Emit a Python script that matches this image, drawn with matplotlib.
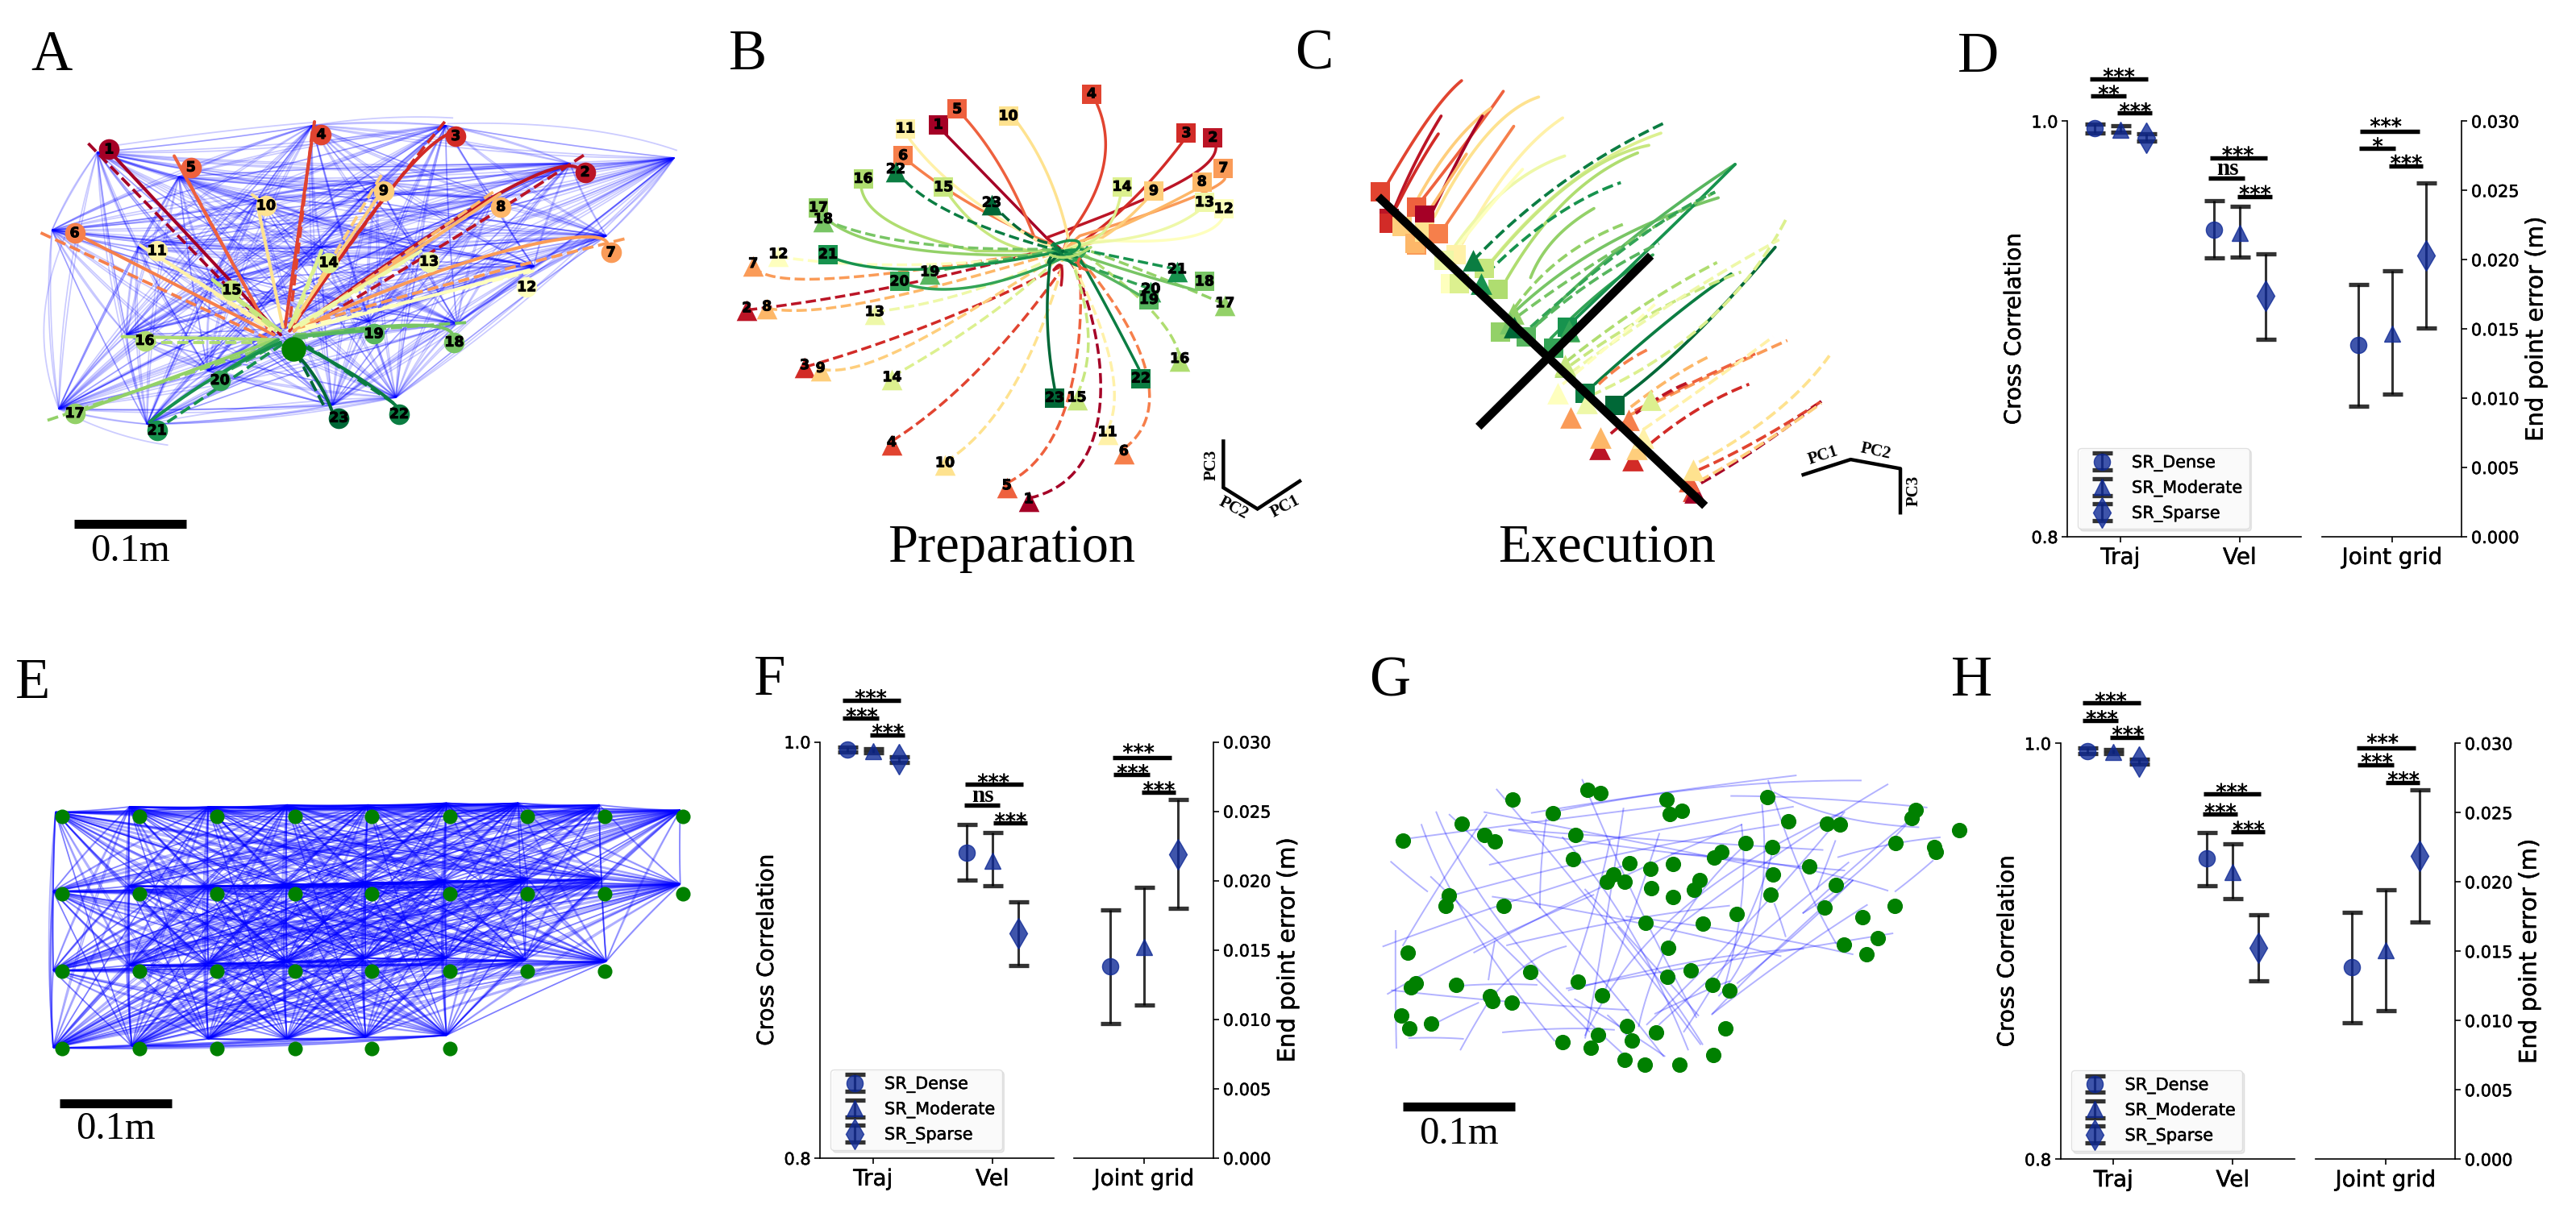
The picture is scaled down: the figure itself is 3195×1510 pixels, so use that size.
import math
import numpy as np
import matplotlib
matplotlib.use("Agg")
import matplotlib.pyplot as plt
import matplotlib.patheffects as pe
from matplotlib.collections import LineCollection

W, H = 3195, 1510
SERIF = "Liberation Serif"
cmap = plt.get_cmap("RdYlGn")
def col(i):
    return cmap((i - 1) / 22)

# ---------- panel A ----------
A_NODES = {1:(241,393),2:(1293,453),3:(1007,358),4:(710,354),5:(422,440),6:(165,613),7:(1350,664),
           8:(1107,544),9:(848,502),10:(588,541),11:(347,660),12:(1164,755),13:(948,688),14:(726,691),
           15:(512,763),16:(320,896),17:(165,1087),18:(1004,900),19:(826,878),20:(486,1000),
           21:(347,1132),22:(882,1089),23:(749,1099)}
A_CENTRE = (649,917)
A_HUBS = [(215,400),(1260,430),(985,330),(690,330),(395,465),(115,605),(1340,620),(1090,520),(835,480),
          (570,520),(305,650),(1180,700),(930,660),(710,650),(470,740),(280,880),(130,1075),(1010,850),
          (815,845),(460,975),(325,1115),(875,1045),(735,1065),(1490,415)]
A_ARCS = [[(130,1075),(55,850),(150,605)],[(990,325),(1300,315),(1495,395)],[(240,385),(500,340),(690,322)],
          [(690,330),(850,300),(1000,310)],[(1490,415),(1400,560),(1190,710)],[(325,1115),(600,1050),(875,1045)],
          [(130,1075),(250,1150),(370,1170)]]
A_SOLID = {1:[(240,395),(620,880)],2:[(1275,440),(1225,410),(1000,560),(650,870)],
           3:[(1005,345),(930,375),(830,540),(640,870)],4:[(695,320),(630,860)],5:[(385,410),(595,870)],
           6:[(165,613),(605,880)],7:[(1340,635),(1310,590),(1000,670),(660,865)],8:[(1105,510),(650,870)],
           9:[(848,495),(640,860)],10:[(570,545),(625,860)],11:[(310,645),(610,870)],12:[(1170,710),(660,870)],
           13:[(930,660),(650,860)],14:[(710,660),(640,860)],15:[(470,735),(620,870)],16:[(270,885),(610,893)],
           17:[(165,1087),(610,893)],18:[(1000,880),(990,835),(800,860),(650,885)],19:[(826,868),(650,885)],
           20:[(470,1000),(540,940),(615,893)],21:[(330,1110),(470,980),(620,900)],
           22:[(882,1075),(830,1010),(670,910)],23:[(735,1085),(710,1000),(655,930)]}
A_DASHED = {1:[(195,377),(610,885)],2:[(1290,408),(1060,590),(680,860)],3:[(983,320),(830,540),(645,860)],
            4:[(690,345),(640,850)],5:[(400,440),(590,860)],6:[(90,612),(590,890)],
            7:[(1380,628),(900,770),(660,860)],8:[(1090,505),(655,865)],9:[(843,460),(650,850)],
            10:[(555,510),(578,530)],11:[(325,655),(600,870)],12:[(1180,712),(670,860)],13:[(925,665),(660,860)],
            14:[(712,655),(650,850)],15:[(468,735),(610,870)],16:[(320,900),(600,900)],17:[(105,1105),(610,905)],
            18:[(1030,848),(650,880)],19:[(820,860),(660,890)],20:[(480,990),(620,900)],
            21:[(370,1110),(630,900)],22:[(870,1060),(680,910)],23:[(715,1065),(660,940)]}

# ---------- panel B ----------
B_CENTRE = (955,660)
B_SQUARES = {1:(618,328),2:(1360,362),3:(1288,350),4:(1032,247),5:(669,287),6:(523,409),7:(1388,442),
             8:(1330,478),9:(1200,502),10:(807,305),11:(529,338),12:(1389,549),13:(1337,532),14:(1114,491),
             15:(632,492),16:(415,470),17:(294,546),18:(1337,740),19:(1187,788),20:(513,740),21:(320,669),
             22:(1165,995),23:(932,1046)}
B_TRIANGLES = {1:(862,1312),2:(101,810),3:(257,960),4:(492,1163),5:(803,1276),6:(1119,1186),7:(118,693),
               8:(155,806),9:(300,968),10:(636,1217),11:(1075,1136),12:(186,668),13:(446,820),14:(493,992),
               15:(992,1045),16:(1270,943),17:(1392,797),18:(307,576),19:(595,715),20:(1192,760),21:(1263,708),
               22:(503,445),23:(762,533)}
B_SOLID = {1:[(630,345),(910,625)],2:[(1368,385),(1370,450),(1200,520),(910,625)],3:[(1280,370),(1150,540),(1000,640)],
           4:[(1045,270),(1120,430),(970,620)],5:[(690,310),(800,430),(880,630)],6:[(545,430),(700,550),(920,640)],
           7:[(1392,470),(1370,510),(1000,620)],8:[(1310,500),(1100,610),(980,640)],9:[(1180,525),(1100,610),(1030,640)],
           10:[(830,320),(930,450),(970,630)],11:[(540,365),(650,510),(900,640)],12:[(1385,575),(1340,650),(1040,630)],
           13:[(1320,555),(1220,630),(1000,640)],14:[(1110,515),(1090,610),(1020,640)],15:[(645,510),(740,640),(870,660)],
           16:[(410,495),(430,600),(720,660)],17:[(310,570),(430,680),(900,670)],18:[(1310,762),(1150,720),(1000,670)],
           19:[(1160,775),(1100,740),(1000,690)],20:[(540,750),(700,790),(950,680)],21:[(345,682),(520,740),(900,670)],
           22:[(1160,970),(1060,780),(1000,680)],23:[(932,1020),(900,850),(920,690)]}
B_DASHED = {1:[(862,1310),(1100,1260),(1090,950),(990,710)],2:[(101,815),(500,770),(930,650)],3:[(257,965),(600,870),(950,700)],
            4:[(492,1160),(720,1020),(950,710)],5:[(803,1270),(1000,1180),(1010,850),(1000,700)],
            6:[(1119,1180),(1270,1070),(1150,850),(1000,680)],7:[(118,700),(170,770),(500,720),(920,660)],
            8:[(155,810),(300,840),(600,760),(920,670)],9:[(300,970),(430,1000),(700,820),(930,680)],
            10:[(636,1215),(830,1100),(950,710)],11:[(1075,1130),(1140,1000),(980,690)],12:[(186,675),(500,720),(920,670)],
            13:[(446,820),(700,790),(920,680)],14:[(493,990),(750,850),(930,690)],15:[(992,1040),(1060,900),(980,690)],
            16:[(1270,940),(1250,830),(1000,660)],17:[(1392,800),(1200,720),(1000,650)],18:[(307,576),(500,660),(900,655)],
            19:[(595,715),(750,690),(900,665)],20:[(1192,760),(1020,700)],21:[(1263,708),(1000,655)],
            22:[(503,445),(580,560),(910,650)],23:[(762,533),(850,630),(920,640)]}
B_TANGLE = [(21,[(925,645),(1015,610),(1020,655),(960,670)]),(23,[(915,690),(930,650),(950,680)]),
            (20,[(950,680),(1000,700),(1020,650)]),(22,[(930,640),(960,690),(1000,700)]),
            (16,[(920,670),(970,690),(1030,650)]),(2,[(930,710),(960,670),(950,750)]),(5,[(1000,680),(985,700),(1020,710)])]
B_AXIS = [(1388,1160),(1388,1282),(1480,1338),(1594,1265)]

# ---------- panel C ----------
C_SQUARES = [(4,266,504),(2,287,575),(3,287,587),(5,355,545),(1,375,565),(9,320,595),(7,356,645),(8,352,640),
             (10,375,610),(6,410,615),(11,455,670),(13,425,685),(12,440,745),(14,462,745),(15,525,705),(16,558,760),
             (17,565,872),(18,630,885),(19,630,885),(20,697,915),(21,732,860),(22,775,1035),(23,850,1065)]
C_TRIANGLES = [(22,497,685),(21,517,745),(17,597,825),(18,590,850),(23,600,860),(19,735,870),(20,735,868),(16,725,965),
               (15,725,960),(12,707,1035),(13,780,1060),(14,938,1050),(7,740,1097),(6,885,1105),(2,812,1180),(8,815,1150),
               (3,895,1210),(9,905,1180),(11,920,1150),(4,1045,1290),(1,1050,1295),(5,1035,1265),(10,1045,1235)]
C_SOLID = {4:[(285,480),(400,270),(468,212)],2:[(300,550),(350,420),(417,305)],3:[(305,545),(360,430),(410,352)],
           5:[(355,545),(500,350),(572,240)],9:[(335,570),(430,370),(540,285)],1:[(380,590),(470,390),(520,305)],
           8:[(365,590),(420,500),(480,405)],10:[(400,570),(530,300),(660,255)],6:[(430,590),(520,450),(598,332)],
           11:[(470,640),(590,400),(720,310)],13:[(430,680),(560,470),(725,410)],12:[(450,660),(530,550),(620,445)],
           14:[(540,690),(740,430),(965,350)],15:[(530,705),(750,420),(935,382)],16:[(580,735),(720,480),(907,402)],
           17:[(640,730),(680,620),(798,548)],18:[(600,820),(800,620),(1108,520)],19:[(650,860),(850,640),(1150,432)],
           20:[(690,890),(830,740),(945,670)],21:[(750,840),(900,690),(1000,590),(1150,432)],22:[(800,1010),(1010,810),(1140,720)],
           23:[(875,1040),(1040,910),(1250,650)]}
C_DASHED = {22:[(497,685),(700,460),(970,325)],21:[(530,720),(700,540),(865,480)],17:[(600,810),(700,660),(870,590)],
            18:[(610,830),(800,680),(1100,505)],20:[(640,860),(850,660),(1000,550),(1100,505)],19:[(660,850),(800,720),(960,640)],
            16:[(730,950),(920,790),(1105,690)],15:[(740,960),(950,800),(1165,715)],14:[(790,1040),(1130,880),(1280,570)],
            13:[(740,980),(1000,780),(1260,630)],12:[(720,1010),(870,880),(950,800)],6:[(810,1010),(870,950),(940,915)],
            8:[(890,1070),(1000,980),(1090,935)],7:[(880,1095),(1100,980),(1280,895)],5:[(900,1080),(1050,1000),(1200,930)],
            2:[(840,1140),(950,1040),(1035,1005)],11:[(920,1130),(1100,1000),(1245,885)],3:[(940,1165),(1060,1060),(1185,1010)],
            10:[(1060,1215),(1280,1090),(1385,935)],4:[(1060,1235),(1200,1170),(1365,1055)],1:[(1065,1270),(1200,1190),(1365,1055)],
            9:[(1060,1265),(1200,1185),(1365,1060)]}
C_CROSS = [[(260,517),(1075,1330)],[(940,672),(510,1122)]]
C_AXIS = [(1320,1248),(1438,1208),(1562,1232),(1562,1348)]

# ---------- panel E ----------
E_COLS = [134,302,469,637,804,972,1139,1307,1475]
E_ROWS = [521,737,953,1168]
E_ROW_COUNT = [9,9,8,6]
E_HUBS = [(120,510),(280,495),(450,495),(620,490),(795,490),(965,485),(1120,485),(1295,490),(1470,505),
          (115,730),(280,715),(450,715),(620,710),(790,705),(960,700),(1140,695),(1300,695),(1470,710),
          (115,950),(280,935),(450,930),(620,925),(790,915),(965,915),(1135,920),(1310,925),
          (115,1165),(285,1160),(450,1140),(620,1140),(790,1135),(965,1130)]

# ---------- panel G ----------
G_POINTS = [(156,589),(299,543),(355,574),(381,592),(424,474),(521,513),(606,448),(637,456),(798,474),(806,516),(835,506),
            (1042,469),(1094,535),(1187,543),(1220,545),(1404,505),(1394,527),(1509,561),(1354,595),(1448,606),(1452,620),
            (577,574),(570,641),(708,651),(759,668),(813,654),(913,636),(931,620),(989,596),(1054,607),(1145,661),(1056,683),
            (1210,713),(668,684),(653,704),(695,703),(761,722),(878,698),(865,725),(814,747),(1051,740),(268,742),(260,770),
            (402,771),(1182,775),(1353,770),(1274,801),(747,817),(885,820),(968,793),(802,887),(168,901),(1229,879),(1311,861),
            (1284,904),(188,985),(177,997),(287,991),(467,955),(583,980),(857,949),(799,967),(910,991),(950,1005),(369,1021),
            (375,1035),(422,1040),(641,1019),(153,1075),(172,1112),(225,1098),(701,1105),(773,1123),(940,1112),(631,1130),
            (713,1145),(545,1148),(614,1164),(695,1199),(744,1211),(830,1211),(912,1185)]
G_LINES = [[(139,840),(138,1000),(141,1165)],[(157,880),(260,680),(360,518)],[(128,648),(170,690),(216,730)],
           [(120,1015),(300,895),(620,740)],[(109,883),(400,760),(720,650)],[(140,588),(350,555),(790,493)],
           [(202,545),(280,800),(525,1145)],[(238,510),(350,830),(690,1180)],[(270,517),(500,760),(790,1188)],
           [(225,690),(400,880),(610,1120)],[(385,447),(650,800),(880,1155)],[(355,510),(630,570),(1060,670)],
           [(470,512),(800,450),(1112,408)],[(520,510),(900,420),(1270,422)],[(593,420),(720,770),(870,1080)],
           [(415,560),(800,630),(1230,672)],[(368,656),(700,570),(1105,495)],[(505,530),(490,650),(490,775)],
           [(955,465),(1150,465),(1430,497)],[(1045,423),(1120,700),(1210,875)],[(1060,455),(1200,540),(1410,552)],
           [(600,1130),(750,750),(1225,510)],[(1335,433),(1100,590),(810,840)],[(1403,520),(1280,630),(1130,790)],
           [(1285,768),(1100,900),(910,1070)],[(1445,645),(1400,690),(1354,730)],[(1208,590),(1185,660),(1163,725)],
           [(1215,635),(1330,595),(1462,580)],[(1335,728),(1100,640),(810,625)],[(375,745),(700,800),(1075,910)],
           [(410,880),(700,800),(950,770)],[(1347,847),(900,930),(555,1000)],[(1250,905),(1000,840),(700,800)],
           [(130,1005),(400,1040),(705,1060)],[(400,1122),(550,1105),(670,1115)],[(172,1138),(240,1135),(303,1140)],
           [(297,1170),(340,1080),(380,1010)],[(236,1097),(290,1065),(340,1040)],[(290,993),(380,985),(482,990)],
           [(365,975),(372,920),(380,870)],[(376,1020),(460,910),(553,883)],[(575,1030),(680,1100),(793,1188)],
           [(655,1075),(700,1120),(720,1165)],[(730,1105),(790,800),(1000,590)],[(750,1100),(1000,830),(1230,510)],
           [(780,1100),(1000,870),(1240,650)],[(840,1120),(1010,830),(1060,600)],[(908,1072),(1050,900),(1250,700)],
           [(970,985),(1100,870),(1250,700)],[(885,1155),(800,1000),(680,830)],[(600,725),(740,900),(875,1075)],
           [(560,1005),(900,900),(1130,890)],[(770,1070),(900,1000),(950,980)],[(940,990),(1000,750),(980,545)],
           [(925,1020),(1060,850),(1030,490)],[(1060,765),(1075,810),(1087,855)],[(1130,790),(1260,700),(1400,520)],
           [(600,1137),(630,980),(693,500)],[(570,960),(630,760),(660,590)],[(650,1000),(700,850),(780,570)],
           [(545,580),(720,800),(850,1170)],[(330,900),(650,700),(980,545)],[(250,750),(650,620),(1070,545)],
           [(415,558),(800,590),(1177,615)]]

# ---------- statistics panels ----------
CATEGORIES = ["Traj", "Vel"]
SERIES = ["SR_Dense", "SR_Moderate", "SR_Sparse"]
MARKERS = ["o", "^", "d"]
SIZES = [14.5, 14.5, 19]
# each row: mean, upper, lower
D_TRAJ = [(.9965,.9986,.9943),(.9960,.9977,.9946),(.9920,.9938,.9905)]
D_VEL  = [(.9479,.9616,.9342),(.9462,.9590,.9345),(.9159,.9361,.8952)]
D_GRID = [(.01387,.01823,.00943),(.01465,.01919,.01031),(.02031,.02556,.01509)]
F_TRAJ = [(.9962,.9976,.9950),(.9957,.9967,.9946),(.9915,.9929,.9901)]
F_VEL  = [(.9468,.9604,.9334),(.9430,.9563,.9310),(.9079,.9233,.8927)]
F_GRID = [(.0138,.01789,.0097),(.01522,.0195,.01102),(.02188,.02582,.018)]
H_TRAJ = [(.9964,.9979,.9952),(.9960,.9971,.9950),(.9912,.9924,.9901)]
H_VEL  = [(.9445,.9571,.9317),(.9381,.9517,.9254),(.9017,.9176,.8858)]
H_GRID = [(.01383,.01783,.00984),(.01505,.01944,.01072),(.0219,.02665,.01713)]
D_SIG = [(379,521,174,"***",450,152),(381,467,221,"**",425,200),(446,531,268,"***",490,248),
         (673,813,394,"***",741,370),(669,757,450,"ns",716,425),(740,824,501,"***",783,478),
         (1039,1185,320,"***",1103,290),(1037,1126,368,"*",1083,345),(1110,1193,416,"***",1153,393)]
F_SIG = [(375,517,174,"***",444,152),(375,463,223,"***",422,203),(442,527,270,"***",486,248),
         (675,817,408,"***",744,386),(673,759,466,"ns",718,440),(744,826,516,"***",786,494),
         (1035,1179,333,"***",1099,303),(1037,1126,381,"***",1085,360),(1106,1189,430,"***",1149,408)]
H_SIG = [(371,513,182,"***",440,160),(371,458,231,"***",418,210),(438,521,277,"***",482,254),
         (667,807,435,"***",736,413),(665,749,490,"***",708,469),(734,817,540,"***",777,518),
         (1041,1185,306,"***",1105,276),(1043,1132,354,"***",1091,330),(1112,1195,403,"***",1156,380)]

fig = plt.figure(figsize=(W/100, H/100), dpi=100, facecolor="white")
BOLD = [pe.withStroke(linewidth=0.7, foreground="k")]
THICK = [pe.withStroke(linewidth=0.35, foreground="k")]

def overlay(x, y, w, h):
    ax = fig.add_axes([x/W, 1-(y+h)/H, w/W, h/H])
    ax.set_xlim(0, 1568); ax.set_ylim(1568, 0)
    ax.axis("off"); ax.patch.set_alpha(0)
    return ax

def bez(P, n=40):
    P = np.array(P, float); d = len(P)-1
    t = np.linspace(0, 1, n)[:, None]
    return sum(math.comb(d, k) * t**k * (1-t)**(d-k) * P[k] for k in range(d+1))

def network(ax, hubs, alpha, lw, bend=0.02):
    segs = []
    for i, a in enumerate(hubs):
        for j, b in enumerate(hubs):
            if i == j: continue
            a_, b_ = np.array(a, float), np.array(b, float)
            v = b_ - a_
            k = bend * (1 + (i + 2*j) % 3) * (1 if i < j else -1)
            segs.append(bez([a_, (a_+b_)/2 + k*np.array([-v[1], v[0]]), b_], 16))
    ax.add_collection(LineCollection(segs, colors="blue", alpha=alpha, linewidths=lw, zorder=1))

def trace(ax, P, c, lw, ls="-", z=2, end=None):
    q = bez(P)
    if end is not None:
        q = np.vstack([q, end])
    ax.plot(q[:,0], q[:,1], color=c, lw=lw, ls=ls, zorder=z, solid_capstyle="round")

def scalebar(ax, x0, x1, y, ty, lw=8):
    ax.plot([x0, x1], [y, y], color="k", lw=lw, solid_capstyle="butt")
    ax.text((x0+x1)/2, ty, "0.1m", family=SERIF, fontsize=35, ha="center", va="baseline")

def label(x, y, s, size=51, ha="left"):
    fig.text(x/W, 1-y/H, s, family=SERIF, fontsize=size, ha=ha, va="baseline")

for s, x, y in [("A",38,87),("B",904,86),("C",1606,86),("D",2428,89),("E",19,866),("F",935,862),("G",1698,863),("H",2420,863)]:
    label(x, y, s)
label(1255, 697, "Preparation", 48, "center")
label(1993, 697, "Execution", 48, "center")

# ---------- A ----------
axA = overlay(0, 0, 880, 740)
network(axA, A_HUBS, 0.21, 1.2)
for arc in A_ARCS:
    q = bez(arc); axA.plot(q[:,0], q[:,1], color="blue", alpha=0.2, lw=1.3, zorder=1)
for i in range(1, 24):
    trace(axA, A_SOLID[i], col(i), 2.9)
    trace(axA, A_DASHED[i], col(i), 2.7, "--")
axA.scatter(*A_CENTRE, s=480, color="green", zorder=3, lw=0)
for i, (x, y) in A_NODES.items():
    axA.scatter(x, y, s=340, color=col(i), zorder=3, lw=0)
    axA.text(x, y, str(i), fontsize=12.5, fontweight="bold", ha="center", va="center", zorder=4, path_effects=BOLD)
scalebar(axA, 164, 412, 1377, 1475)

# ---------- B ----------
axB = overlay(880, 0, 720, 740)
for i in range(1, 24):
    trace(axB, B_SOLID[i], col(i), 2.5, end=B_CENTRE)
    trace(axB, B_DASHED[i], col(i), 2.5, "--", end=B_CENTRE)
for i, P in B_TANGLE:
    trace(axB, P, col(i), 2.5)
for i, (x, y) in B_SQUARES.items():
    axB.scatter(x, y, marker="s", s=310, color=col(i), zorder=3, lw=0)
    axB.text(x, y, str(i), fontsize=12.5, fontweight="bold", ha="center", va="center", zorder=4, path_effects=BOLD)
for i, (x, y) in B_TRIANGLES.items():
    axB.scatter(x, y+6, marker="^", s=340, color=col(i), zorder=3, lw=0)
    axB.text(x, y, str(i), fontsize=12.5, fontweight="bold", ha="center", va="center", zorder=4, path_effects=BOLD)
q = np.array(B_AXIS); axB.plot(q[:,0], q[:,1], color="k", lw=3.2, clip_on=False, solid_joinstyle="miter")
axB.text(1355, 1222, "PC3", family=SERIF, fontsize=15, fontweight="bold", rotation=90, ha="center", va="center")
axB.text(1415, 1335, "PC2", family=SERIF, fontsize=15, fontweight="bold", rotation=-28, ha="center", va="center")
axB.text(1555, 1332, "PC1", family=SERIF, fontsize=15, fontweight="bold", rotation=28, ha="center", va="center", clip_on=False)

# ---------- C ----------
axC = overlay(1580, 0, 780, 740)
for i, P in C_SOLID.items():
    trace(axC, P, col(i), 2.7)
for i, P in C_DASHED.items():
    trace(axC, P, col(i), 2.7, "--")
for i, x, y in C_SQUARES:
    axC.scatter(x, y, marker="s", s=320, color=col(i), zorder=3, lw=0)
for i, x, y in C_TRIANGLES:
    axC.scatter(x, y, marker="^", s=370, color=col(i), zorder=3, lw=0)
for P in C_CROSS:
    q = np.array(P); axC.plot(q[:,0], q[:,1], color="k", lw=7.5, zorder=5, solid_capstyle="butt")
q = np.array(C_AXIS); axC.plot(q[:,0], q[:,1], color="k", lw=3.2)
axC.text(1370, 1197, "PC1", family=SERIF, fontsize=15, fontweight="bold", rotation=18, ha="center", va="center")
axC.text(1500, 1187, "PC2", family=SERIF, fontsize=15, fontweight="bold", rotation=-12, ha="center", va="center")
axC.text(1596, 1290, "PC3", family=SERIF, fontsize=15, fontweight="bold", rotation=90, ha="center", va="center", clip_on=False)

# ---------- E ----------
axE = overlay(0, 780, 900, 700)
network(axE, E_HUBS, 0.3, 1.2, bend=0.012)
for y, n in zip(E_ROWS, E_ROW_COUNT):
    axE.scatter(E_COLS[:n], [y]*n, s=170, color="green", zorder=3, lw=0)
scalebar(axE, 129, 371, 1320, 1418)

# ---------- G ----------
axG = overlay(1660, 780, 800, 700)
for P in G_LINES:
    q = bez(P); axG.plot(q[:,0], q[:,1], color="blue", alpha=0.3, lw=1.4, zorder=1)
axG.scatter(*zip(*G_POINTS), s=190, color="green", zorder=3, lw=0)
scalebar(axG, 157, 429, 1328, 1432)

# ---------- statistics ----------
def stats(px, traj, vel, grid, sig, ov, leg_anchor):
    L, T, B, R1, L2, R2 = px
    axL = fig.add_axes([L/W, 1-B/H, (R1-L)/W, (B-T)/H])
    axR = fig.add_axes([L2/W, 1-B/H, (R2-L2)/W, (B-T)/H])
    for ax in (axL, axR):
        ax.patch.set_alpha(0)
        ax.spines["top"].set_visible(False)
        for sp in ax.spines.values():
            sp.set_linewidth(1.2)
        ax.tick_params(width=1.2, length=5)
    axL.spines["right"].set_visible(False)
    axR.spines["left"].set_visible(False)
    off = [-0.216, 0, 0.216]
    for k in range(3):
        for c, d in enumerate((traj, vel)):
            m, hi, lo = d[k]
            axL.errorbar(c+off[k], m, yerr=[[m-lo], [hi-m]], fmt=MARKERS[k], ms=SIZES[k], color="#0f2a96", ecolor="k",
                         elinewidth=2.2, capsize=9, capthick=3.8, alpha=0.8, clip_on=False,
                         label=SERIES[k] if c == 0 else None)
        m, hi, lo = grid[k]
        axR.errorbar(off[k]*1.0, m, yerr=[[m-lo], [hi-m]], fmt=MARKERS[k], ms=SIZES[k], color="#0f2a96", ecolor="k",
                     elinewidth=2.2, capsize=9, capthick=3.8, alpha=0.8, clip_on=False)
    axL.set_xlim(-0.442, 1.517); axL.set_ylim(0.8, 1.0)
    axL.set_xticks([0, 1]); axL.set_xticklabels(CATEGORIES, fontsize=20)
    axL.set_yticks([0.8, 1.0]); axL.set_yticklabels(["0.8", "1.0"], fontsize=15)
    axL.set_ylabel("Cross Correlation", fontsize=20)
    axL.yaxis.label.set_va("center")
    axL.yaxis.set_label_coords(-0.229, 0.5)
    axR.set_xlim(-0.443, 0.44); axR.set_ylim(0, 0.03)
    axR.set_xticks([0]); axR.set_xticklabels(["Joint grid"], fontsize=20)
    axR.yaxis.tick_right(); axR.yaxis.set_label_position("right")
    axR.set_yticks([0, .005, .01, .015, .02, .025, .03])
    axR.set_yticklabels(["0.000","0.005","0.010","0.015","0.020","0.025","0.030"], fontsize=15)
    axR.set_ylabel("End point error (m)", fontsize=21)
    axR.yaxis.label.set_va("center")
    axR.yaxis.set_label_coords(1.534, 0.5)
    leg = axL.legend(loc="lower left", bbox_to_anchor=leg_anchor, borderaxespad=0, fontsize=15, framealpha=0.8,
                     edgecolor="0.85", shadow={"color": "k", "alpha": 0.08})
    texts = axL.get_xticklabels()+axL.get_yticklabels()+axR.get_xticklabels()+axR.get_yticklabels()+leg.get_texts()+[axL.yaxis.label, axR.yaxis.label]
    for t in texts:
        t.set_path_effects(THICK)
    for x0, x1, y, s, tx, ty in sig:
        ov.plot([x0, x1], [y, y], color="k", lw=3.9, solid_capstyle="butt")
        if s == "ns":
            ov.text(tx, ty+17, s, family=SERIF, fontsize=21, fontweight="bold", ha="center", va="baseline")
        else:
            ov.text(tx, ty+36, s, fontsize=19, ha="center", va="baseline", path_effects=THICK)

stats((2564.3,150.4,666,2854.4,2880.2,3053.1), D_TRAJ, D_VEL, D_GRID, D_SIG, overlay(2400,20,795,700), (0.045,0.019))
stats((1017.3,920.5,1437,1307.3,1332.2,1505), F_TRAJ, F_VEL, F_GRID, F_SIG, overlay(855,791,795,700), (0.045,0.019))
stats((2555.8,922.3,1438.3,2845.8,2872.2,3045), H_TRAJ, H_VEL, H_GRID, H_SIG, overlay(2395,791,795,700), (0.045,0.019))

fig.savefig("out.png", dpi=100)
